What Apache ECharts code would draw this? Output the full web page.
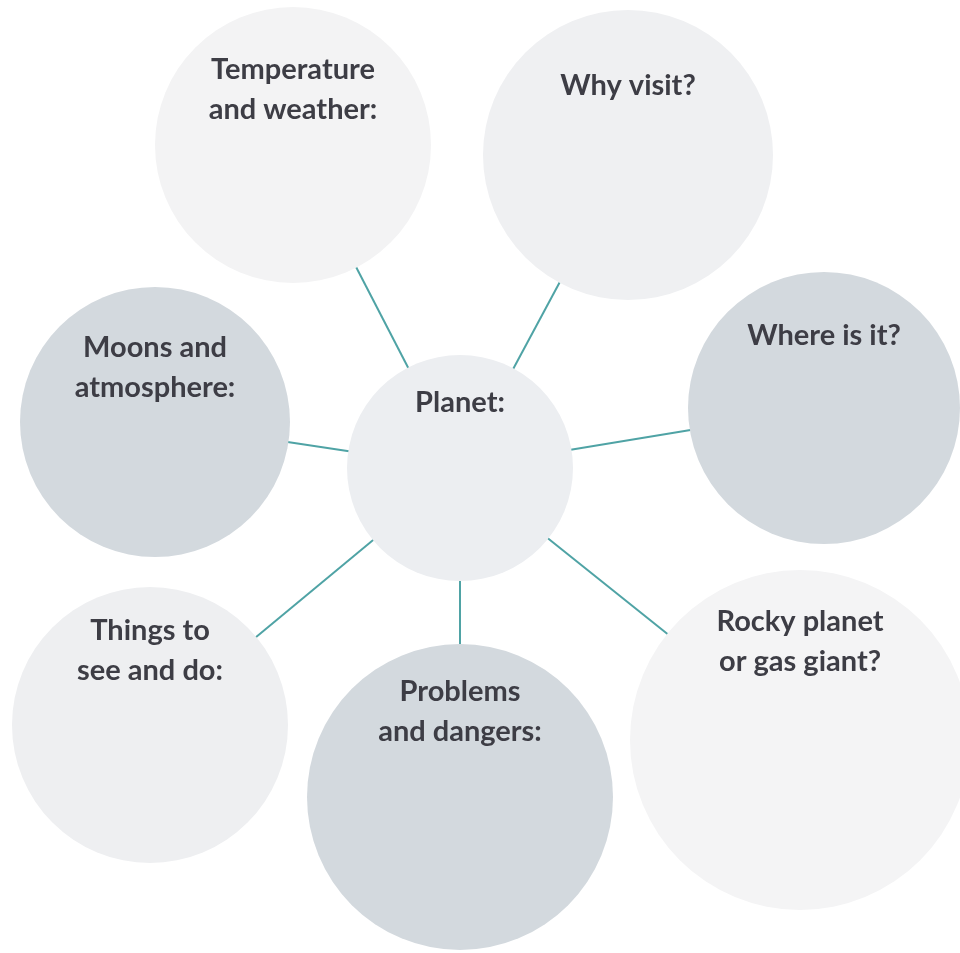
<!DOCTYPE html>
<html><head><meta charset="utf-8">
<script src="https://cdn.jsdelivr.net/npm/echarts@6/dist/echarts.min.js"></script>
<style>html,body{margin:0;padding:0;background:#fff}#c{width:960px;height:953px}</style>
</head><body><div id="c"></div>
<script>
// Node data (diagram layout, in pixel units)
const labels = ["Planet:", "Temperature\nand weather:", "Why visit?", "Where is it?", "Rocky planet\nor gas giant?", "Problems\nand dangers:", "Things to\nsee and do:", "Moons and\natmosphere:"];
const nodeX = [460, 293, 628, 824, 800, 460, 150, 155];
const nodeY = [468, 145, 155, 408, 740, 797, 725, 422];
const diameters = [226, 276, 290, 272, 340, 306, 276, 270];
const fills = ["#eceef1", "#f3f3f4", "#eff0f2", "#d3d9de", "#f4f4f5", "#d3d9de", "#eeeff1", "#d3d9de"];
const labelY = [0.21, 0.30, 0.26, 0.235, 0.21, 0.22, 0.23, 0.30];
const links = [[0,1],[0,2],[0,3],[0,4],[0,5],[0,6],[0,7]];

const chart = echarts.init(document.getElementById('c'));
chart.setOption({
  animation: false,
  grid: {left: 0, right: 0, top: 0, bottom: 0},
  xAxis: {type: 'value', min: 0, max: 960, show: false},
  yAxis: {type: 'value', min: 0, max: 953, inverse: true, show: false},
  series: [{
    type: 'graph',
    coordinateSystem: 'cartesian2d',
    layout: 'none',
    symbol: 'circle',
    data: labels.map((n, i) => ({
      name: n,
      value: [nodeX[i], nodeY[i]],
      symbolSize: diameters[i],
      itemStyle: {color: fills[i]},
      label: {position: ['50%', (labelY[i] * 100) + '%']}
    })),
    links: links.map(l => ({source: l[0], target: l[1]})),
    lineStyle: {color: '#4fa3a5', width: 2, opacity: 1, curveness: 0},
    label: {
      show: true,
      formatter: p => p.name,
      align: 'center',
      verticalAlign: 'middle',
      color: '#3d3d45',
      fontFamily: 'Lato',
      fontWeight: 'bold',
      fontSize: 29,
      lineHeight: 40
    },
    emphasis: {disabled: true}
  }]
});
</script></body></html>
